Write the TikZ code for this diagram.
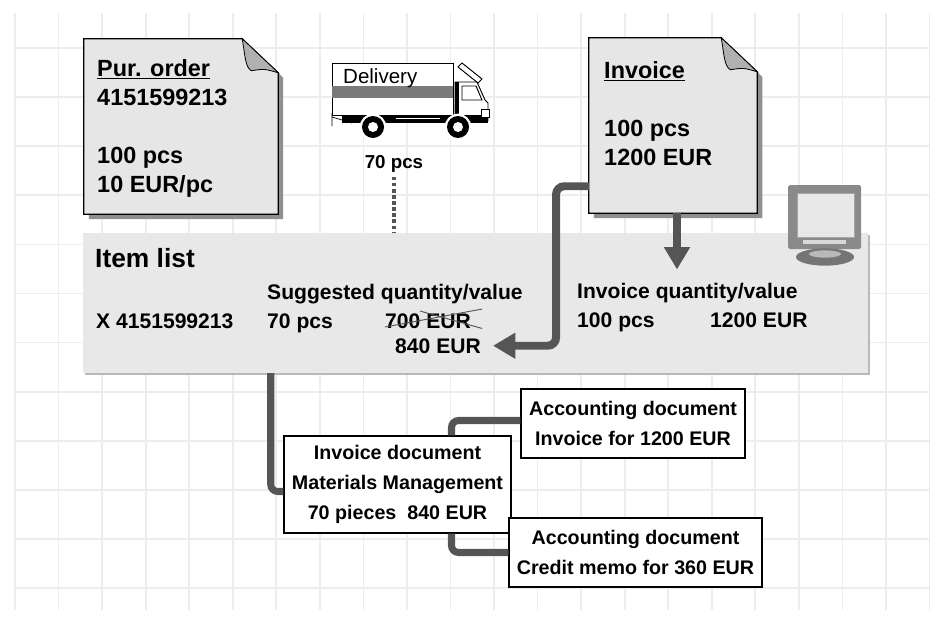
\documentclass[tikz,border=0pt]{standalone}
\usepackage{fontspec}
\setmainfont{Liberation Sans}
\usepackage{xcolor}
\usetikzlibrary{arrows.meta,positioning}

\definecolor{gridgray}{HTML}{EDEDED}
\definecolor{paperfill}{HTML}{E6E6E6}
\definecolor{papershadow}{HTML}{8F8F8F}
\definecolor{foldgray}{HTML}{B0B0B0}
\definecolor{listfill}{HTML}{E8E8E8}
\definecolor{flowgray}{HTML}{555555}
\definecolor{stripegray}{HTML}{7A7A7A}
\definecolor{monitorgray}{HTML}{8A8A8A}

\begin{document}
\begin{tikzpicture}[x=0.03cm, y=-0.03cm,
        gridline/.style={draw=gridgray, line width=1.5pt},
        paper/.style={minimum height=5.25cm, inner sep=0pt},
        paperbody/.style={fill=paperfill, draw=black, line width=0.9pt},
        fold/.style={fill=foldgray, draw=black, line width=0.7pt},
        papertext/.style={anchor=north west, inner sep=0pt, align=left,
            font=\fontsize{20}{24.75}\selectfont\bfseries},
        rowtext/.style={anchor=base west, inner sep=0pt,
            font=\fontsize{18}{22}\selectfont\bfseries},
        docbox/.style={draw=black, fill=white, line width=0.9pt, align=center,
            inner sep=0pt, minimum height=2.07cm,
            font=\fontsize{16.8}{25.6}\selectfont\bfseries},
        flow/.style={draw=flowgray, line width=6.8pt, rounded corners=7pt,
            -{Triangle[width=21pt,length=19pt]}},
        link/.style={draw=flowgray, line width=6pt, rounded corners=6pt},
    ]
    \useasboundingbox (0,0) rectangle (934,619);

    % background grid
    \foreach \i in {0,...,21}
        \draw[gridline] (15+43.55*\i,13) -- (15+43.55*\i,610);
    \foreach \j in {0,...,11}
        \draw[gridline] (15,48+49.1*\j) -- (930,48+49.1*\j);

    % purchase order and invoice sheets
    \node[paper, minimum width=5.82cm] (po) at (181,126.5) {};
    \node[paper, minimum width=5.04cm] (inv) at (673,125.5) {};
    \foreach \sheet in {po,inv} {
        \fill[papershadow] ([shift={(5,0)}]\sheet.south west) -- ([shift={(5,5)}]\sheet.south west)
            -- ([shift={(5,5)}]\sheet.south east) -- ([shift={(5,39)}]\sheet.north east)
            -- ([shift={(0,34)}]\sheet.north east) -- (\sheet.south east) -- cycle;
        \draw[paperbody] (\sheet.north west) -- ([shift={(-36,0)}]\sheet.north east)
            -- ([shift={(0,34)}]\sheet.north east) -- (\sheet.south east) -- (\sheet.south west) -- cycle;
        \draw[fold] ([shift={(-36,0)}]\sheet.north east)
            .. controls ([shift={(-33,18)}]\sheet.north east) and ([shift={(-33,28)}]\sheet.north east) .. ([shift={(-27,32)}]\sheet.north east)
            .. controls ([shift={(-14,30)}]\sheet.north east) .. ([shift={(0,34)}]\sheet.north east) -- cycle;
    }
    \node[papertext] (potext) at (97,59) {\underline{Pur. order}\\4151599213\\[24.75pt]100 pcs\\10 EUR/pc};
    \node[papertext] (invtext) at (604,61) {\underline{Invoice}\\[24.75pt]100 pcs\\1200 EUR};

    % delivery truck
    \node[draw=black, fill=white, line width=0.8pt, minimum width=3.63cm, minimum height=1.56cm, inner sep=0pt] (truck) at (392.5,89) {};
    \fill[stripegray] ([shift={(0.5,23)}]truck.north west) rectangle ([shift={(-0.5,35)}]truck.north east);
    \node[anchor=base west, inner sep=0pt, font=\fontsize{17.5}{20}\selectfont] (delivery) at (343,83) {Delivery};
    \filldraw[fill=white, line width=0.8pt] (455,82) -- (477,82) -- (485,100) -- (488,103) -- (488,121) -- (455,121) -- cycle;
    \draw[line width=0.8pt] (462,86) -- (476,86) -- (482,100) -- (462,100) -- cycle;
    \fill (455,82) rectangle (459,121);
    \filldraw[fill=white, line width=0.8pt] (458,67) -- (462,63) -- (482,79) -- (478,83) -- cycle;
    \fill (342,115) rectangle (488,123);
    \draw[white, line width=1pt] (396,118.5) -- (440,118.5);
    \filldraw[fill=white, line width=0.6pt] (481,109) rectangle (489,117);
    \draw[line width=0.6pt] (332,113) -- (332,126) (332,117) -- (352,123);
    \foreach \wx in {373,458} {
        \fill[white] (\wx,127) circle[radius=0.4cm];
        \fill (\wx,127) circle[radius=0.33cm];
        \fill[white] (\wx,127) circle[radius=0.15cm];
    }
    \node[anchor=base, inner sep=0pt, font=\fontsize{16}{19}\selectfont\bfseries] (qty) at (394,168) {70 pcs};

    % item list panel
    \node[minimum width=23.55cm, minimum height=4.2cm, inner sep=0pt] (list) at (475.5,303) {};
    \fill[gray!55] ([shift={(2,2)}]list.north west) rectangle ([shift={(2,2)}]list.south east);
    \fill[listfill] (list.north west) rectangle (list.south east);
    \draw[flowgray, line width=3pt, dash pattern=on 3pt off 2.2pt, shorten <=4pt] (qty.south) -- (qty.south |- list.north);

    \node[rowtext, font=\fontsize{22.5}{27}\selectfont\bfseries] (itemlist) at (95,267) {Item list};
    \node[rowtext] (suggested) at (267,299) {Suggested quantity/value};
    \node[rowtext] (ponum) at (96,328) {X 4151599213};
    \node[rowtext] (pcs70) at (267,328) {70 pcs};
    \node[rowtext] (eur700) at (385,328) {700 EUR};
    \node[rowtext] (eur840) at (395,353) {840 EUR};
    \node[rowtext] (invqty) at (577,298) {Invoice quantity/value};
    \node[rowtext] (pcs100) at (577,327) {100 pcs};
    \node[rowtext] (eur1200) at (710,327) {1200 EUR};
    % struck-out value
    \draw[flowgray, line width=0.8pt] ([shift={(0,-1)}]eur700.base west) -- ([shift={(11,-4)}]eur700.north east);
    \draw[flowgray, line width=0.8pt] ([shift={(-51,-2)}]eur700.north east) -- ([shift={(11,0)}]eur700.south east);

    % monitor
    \fill[monitorgray, rounded corners=1.5pt] (788,185) rectangle (861,249);
    \fill[listfill] (797,193) rectangle (854,237);
    \draw[gray!70, line width=0.5pt] (797,193) rectangle (854,237);
    \fill[gray!30] (803,240) rectangle (846,244);
    \fill[monitorgray!85!black] (814,249) rectangle (836,253);
    \fill[monitorgray!85!black] (825,257) ellipse [x radius=0.87cm, y radius=0.26cm];
    \fill[gray!55] (825,254) ellipse [x radius=0.48cm, y radius=0.11cm];

    % invoice flows
    \draw[flow] ([shift={(0,-27)}]inv.south west) -| ([shift={(75,0)}]eur840.east) -- ([shift={(12,0)}]eur840.east);
    \path (inv.south |- invqty.north) ++(4,-13) coordinate (invtip);
    \draw[flow] (inv.south -| invtip) -- (invtip);

    % resulting documents
    \node[docbox, minimum width=6.81cm, minimum height=2.91cm] (imdoc) at (397.5,484.5) {Invoice document\\Materials Management\\70 pieces\ \ 840 EUR};
    \node[docbox, minimum width=6.72cm] (acc1) at (633,423.5) {Accounting document\\Invoice for 1200 EUR};
    \node[docbox, minimum width=7.59cm] (acc2) at (635.5,552.5) {Accounting document\\Credit memo for 360 EUR};
    \draw[link] ([shift={(188,0)}]list.south west) |- ([shift={(0,7)}]imdoc.west);
    \draw[link] ([shift={(54,0)}]imdoc.north) |- ([shift={(0,-3)}]acc1.west);
    \draw[link] ([shift={(54,0)}]imdoc.south) |- (acc2.west);
\end{tikzpicture}
\end{document}
